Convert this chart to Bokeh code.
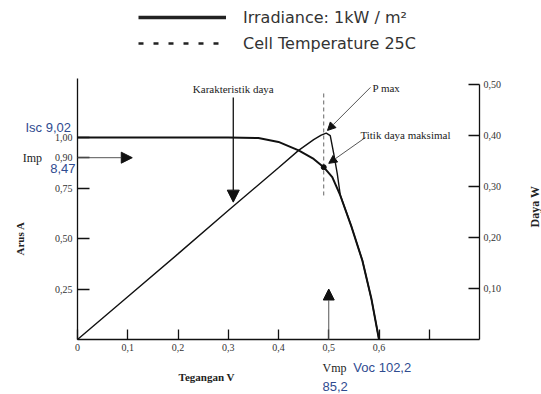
from bokeh.plotting import figure
from bokeh.models import (Range1d, LinearAxis, FixedTicker, Label, Arrow, NormalHead,
                          Legend, LegendItem, CustomJSTickFormatter)
from bokeh.embed import file_html
from bokeh.resources import INLINE

# ---------------- data ----------------
# I-V characteristic (current, relative units, left axis)
iv_voltage = [0.0, 0.10, 0.20, 0.30, 0.36, 0.40, 0.44, 0.47, 0.49, 0.507, 0.523, 0.545, 0.567, 0.585, 0.60]
iv_current = [1.0, 1.0, 1.0, 1.0, 0.997, 0.978, 0.936, 0.894, 0.853, 0.804, 0.713, 0.56, 0.39, 0.20, 0.0]

# power characteristic (right axis, W)
pw_voltage = [0.0, 0.10, 0.20, 0.30, 0.40, 0.44, 0.47, 0.485, 0.495, 0.503, 0.51, 0.517, 0.523, 0.545, 0.567, 0.585, 0.60]
pw_power = [0.0, 0.084, 0.168, 0.253, 0.337, 0.371, 0.392, 0.401, 0.405, 0.400, 0.364, 0.325, 0.283, 0.222, 0.155, 0.079, 0.0]

# maximum power point
mpp_voltage = [0.49]
mpp_current = [0.853]
pmax_marker_top = [1.218]
pmax_marker_bottom = [0.698]

# axis extents and ticks
v_axis = (0.0, 0.8)
i_axis = (0.0, 1.292)
p_axis = (0.0, 0.5)
x_ticks = [0.0, 0.1, 0.2, 0.3, 0.4, 0.5, 0.6, 0.7]
y_ticks = [0.25, 0.50, 0.75, 0.90, 1.00]
p_ticks = [0.10, 0.20, 0.30, 0.40, 0.50]

# annotation anchors (voltage, current)
arrow_karakteristik = [0.31, 1.198, 0.31, 0.68]
arrow_pmax = [0.583, 1.248, 0.4975, 1.035]
arrow_titik = [0.573, 1.0, 0.50, 0.872]
arrow_imp = [0.0, 0.90, 0.109, 0.90]
arrow_vmp = [0.50, 0.0, 0.50, 0.25]

# legend entries (test conditions)
legend_labels = ["Irradiance: 1kW / m²", "Cell Temperature 25C"]

SERIF = "Liberation Serif"
SANS = "Liberation Sans"
BLUE = "#2f4b8f"
INK = "#111111"

W, H = 541, 394
PX_V = 502.5          # pixels per volt
PX_I = 202.0          # pixels per current unit
X0, Y0 = 77, 339      # where the axes cross, in pixels
W_PER_I = 0.3963      # right axis units per left axis unit

x_range = Range1d(-X0 / PX_V, (W - X0) / PX_V)
y_range = Range1d(-(H - Y0) / PX_I, Y0 / PX_I)

p = figure(width=W, height=H, x_range=x_range, y_range=y_range,
           output_backend="svg", toolbar_location=None,
           min_border_left=0, min_border_right=0, min_border_top=0, min_border_bottom=0,
           background_fill_color="white", border_fill_color="white", outline_line_color=None,
           x_axis_type=None, y_axis_type=None)
p.xgrid.grid_line_color = None
p.ygrid.grid_line_color = None
p.extra_y_ranges = {"power": Range1d(y_range.start * W_PER_I, y_range.end * W_PER_I)}

def style_axis(ax, tick_in):
    ax.axis_line_color = INK
    ax.axis_line_width = 1.3
    ax.major_tick_line_color = INK
    ax.major_tick_line_width = 1.3
    ax.major_tick_in = tick_in
    ax.major_tick_out = 0
    ax.minor_tick_line_color = None
    ax.major_label_text_font = SERIF
    ax.major_label_text_font_size = "10px"
    ax.major_label_text_color = "#333333"

xax = LinearAxis(fixed_location=0, bounds=v_axis, ticker=FixedTicker(ticks=x_ticks),
                 formatter=CustomJSTickFormatter(code="""
    if (Math.abs(tick) < 1e-9) return '0';
    if (tick > 0.65) return '';
    return tick.toFixed(1).replace('.', ',');
"""))
style_axis(xax, 10)
xax.major_label_standoff = 4
p.add_layout(xax, "below")

yax = LinearAxis(fixed_location=0, bounds=i_axis, ticker=FixedTicker(ticks=y_ticks),
                 formatter=CustomJSTickFormatter(code="return tick.toFixed(2).replace('.', ',');"))
style_axis(yax, 12)
yax.major_label_standoff = 5
p.add_layout(yax, "left")

rax = LinearAxis(y_range_name="power", fixed_location=v_axis[1], bounds=p_axis,
                 ticker=FixedTicker(ticks=p_ticks),
                 formatter=CustomJSTickFormatter(code="return tick.toFixed(2).replace('.', ',');"))
style_axis(rax, 11)
rax.major_label_standoff = 4
p.add_layout(rax, "right")

# curves
p.line(pw_voltage, pw_power, y_range_name="power", line_color=INK, line_width=1.4)
p.line(iv_voltage, iv_current, line_color=INK, line_width=2)
p.segment(x0=mpp_voltage, y0=pmax_marker_top, x1=mpp_voltage, y1=pmax_marker_bottom,
          line_color="#666666", line_width=1, line_dash="4 3")
p.scatter(mpp_voltage, mpp_current, size=5, color=INK)

# arrows
def add_arrow(a, size, color, width):
    p.add_layout(Arrow(end=NormalHead(size=size, fill_color=INK, line_color=INK, line_width=1),
                       x_start=a[0], y_start=a[1], x_end=a[2], y_end=a[3],
                       line_color=color, line_width=width))

add_arrow(arrow_karakteristik, 12, INK, 1.3)
add_arrow(arrow_pmax, 8, "#555555", 1)
add_arrow(arrow_titik, 8, "#555555", 1)
add_arrow(arrow_imp, 11, "#555555", 1)
add_arrow(arrow_vmp, 11, "#555555", 1)

# texts
def add_label(x, y, text, font=SERIF, size="11px", color="#222222", align="left",
              baseline="middle", angle=0, style="normal"):
    p.add_layout(Label(x=x, y=y, text=text, text_font=font, text_font_size=size,
                       text_color=color, text_align=align, text_baseline=baseline,
                       angle=angle, text_font_style=style))

add_label(0.31, 1.238, "Karakteristik daya", align="center")
add_label(0.587, 1.243, "P max")
add_label(0.563, 1.01, "Titik daya maksimal")
add_label(-0.1035, 1.05, "Isc 9,02", font=SANS, size="13px", color=BLUE)
add_label(-0.109, 0.90, "Imp", size="12px")
add_label(-0.004, 0.846, "8,47", font=SANS, size="13px", color=BLUE, align="right")
add_label(0.4876, -0.139, "Vmp", size="12px")
add_label(0.549, -0.139, "Voc 102,2", font=SANS, size="13px", color=BLUE)
add_label(0.4876, -0.232, "85,2", font=SANS, size="13px", color=BLUE)
add_label(0.257, -0.188, "Tegangan V", align="center", style="bold")
add_label(-0.1154, 0.50, "Arus A", align="center", angle=1.5708, style="bold")
add_label(0.9095, 0.658, "Daya W", align="center", angle=1.5708, style="bold", size="12px")

# legend (conditions) -- placeholder renderers that draw nothing in the plot
nan = float("nan")
leg_solid = p.line(x=[nan], y=[nan], line_color="#222222", line_width=3.5)
leg_dash = p.line(x=[nan], y=[nan], line_color="#222222", line_width=2.5, line_dash="5 10")
legend = Legend(items=[LegendItem(label=legend_labels[0], renderers=[leg_solid]),
                       LegendItem(label=legend_labels[1], renderers=[leg_dash])],
                location=(138, H - 53), glyph_width=88, glyph_height=20, label_height=20,
                label_standoff=17, spacing=6, padding=0, margin=0,
                border_line_color=None, background_fill_alpha=0,
                label_text_font="DejaVu Sans", label_text_font_size="16px",
                label_text_color="#333333")
p.add_layout(legend)

open("out.html", "w").write(file_html(p, INLINE))
